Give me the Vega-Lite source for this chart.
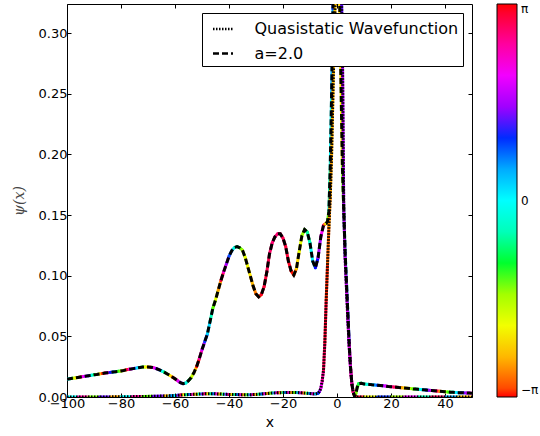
{
  "$schema": "https://vega.github.io/schema/vega-lite/v6.json",
  "autosize": {"type": "none"},
  "padding": {"left": 67, "top": 4, "right": 68, "bottom": 39},
  "width": 405,
  "height": 393,
  "config": {
    "view": {"stroke": "black", "strokeWidth": 1},
    "font": "DejaVu Sans",
    "axis": {"domain": false, "grid": false, "tickColor": "black", "tickSize": -4, "labelFlush": false, "labelColor": "black", "labelFontSize": 13, "labelFont": "DejaVu Sans", "titleFontWeight": "normal", "titleColor": "black"}
  },
  "datasets": {
    "d": [
      {"s":"a","x":-100,"y":0.0146,"p":0.00},{"s":"a","x":-99,"y":0.0150,"p":-0.72},{"s":"a","x":-98,"y":0.0154,"p":-1.44},{"s":"a","x":-97,"y":0.0157,"p":-2.16},{"s":"a","x":-96,"y":0.0161,"p":-2.88},
      {"s":"a","x":-95,"y":0.0165,"p":2.68},{"s":"a","x":-94,"y":0.0169,"p":1.96},{"s":"a","x":-93,"y":0.0172,"p":1.24},{"s":"a","x":-92,"y":0.0176,"p":0.52},{"s":"a","x":-91,"y":0.0179,"p":-0.20},
      {"s":"a","x":-90,"y":0.0183,"p":-0.92},{"s":"a","x":-89,"y":0.0186,"p":-1.64},{"s":"a","x":-88,"y":0.0190,"p":-2.36},{"s":"a","x":-87,"y":0.0193,"p":-3.08},{"s":"a","x":-86,"y":0.0197,"p":2.48},
      {"s":"a","x":-85,"y":0.0200,"p":1.76},{"s":"a","x":-84,"y":0.0203,"p":1.04},{"s":"a","x":-83,"y":0.0206,"p":0.32},{"s":"a","x":-82,"y":0.0209,"p":-0.40},{"s":"a","x":-81,"y":0.0212,"p":-1.12},
      {"s":"a","x":-80,"y":0.0215,"p":-1.84},{"s":"a","x":-79,"y":0.0219,"p":-2.56},{"s":"a","x":-78,"y":0.0224,"p":3.00},{"s":"a","x":-77,"y":0.0228,"p":2.28},{"s":"a","x":-76,"y":0.0232,"p":1.56},
      {"s":"a","x":-75,"y":0.0236,"p":0.84},{"s":"a","x":-74,"y":0.0240,"p":0.12},{"s":"a","x":-73,"y":0.0244,"p":-0.60},{"s":"a","x":-72,"y":0.0247,"p":-1.32},{"s":"a","x":-71,"y":0.0248,"p":-2.04},
      {"s":"a","x":-70,"y":0.0248,"p":-2.76},{"s":"a","x":-69,"y":0.0246,"p":2.80},{"s":"a","x":-68,"y":0.0242,"p":2.08},{"s":"a","x":-67,"y":0.0235,"p":1.36},{"s":"a","x":-66,"y":0.0226,"p":0.64},
      {"s":"a","x":-65,"y":0.0216,"p":-0.08},{"s":"a","x":-64,"y":0.0205,"p":-0.80},{"s":"a","x":-63,"y":0.0192,"p":-1.52},{"s":"a","x":-62,"y":0.0179,"p":-2.24},{"s":"a","x":-61,"y":0.0165,"p":-2.96},
      {"s":"a","x":-60,"y":0.0150,"p":2.60},{"s":"a","x":-59,"y":0.0134,"p":1.88},{"s":"a","x":-58,"y":0.0118,"p":1.16},{"s":"a","x":-57,"y":0.0110,"p":0.44},{"s":"a","x":-56,"y":0.0115,"p":-0.28},
      {"s":"a","x":-55,"y":0.0135,"p":-1.00},{"s":"a","x":-54,"y":0.0160,"p":-1.72},{"s":"a","x":-53,"y":0.0200,"p":-2.44},{"s":"a","x":-52,"y":0.0250,"p":3.12},{"s":"a","x":-51,"y":0.0316,"p":2.40},
      {"s":"a","x":-50,"y":0.0390,"p":1.68},{"s":"a","x":-49,"y":0.0455,"p":0.96},{"s":"a","x":-48,"y":0.0520,"p":0.24},{"s":"a","x":-47,"y":0.0625,"p":-0.48},{"s":"a","x":-46,"y":0.0730,"p":-1.20},
      {"s":"a","x":-45,"y":0.0800,"p":-1.92},{"s":"a","x":-44,"y":0.0880,"p":-2.64},{"s":"a","x":-43,"y":0.0960,"p":2.92},{"s":"a","x":-42,"y":0.1030,"p":2.20},{"s":"a","x":-41,"y":0.1095,"p":1.48},
      {"s":"a","x":-40,"y":0.1160,"p":0.90},{"s":"a","x":-39,"y":0.1205,"p":0.20},{"s":"a","x":-38,"y":0.1232,"p":-0.40},{"s":"a","x":-37,"y":0.1240,"p":-0.85},{"s":"a","x":-36,"y":0.1230,"p":-1.25},
      {"s":"a","x":-35,"y":0.1210,"p":-1.60},{"s":"a","x":-34,"y":0.1150,"p":-1.95},{"s":"a","x":-33,"y":0.1070,"p":-2.20},{"s":"a","x":-32,"y":0.0990,"p":-2.50},{"s":"a","x":-31,"y":0.0910,"p":-2.75},
      {"s":"a","x":-30,"y":0.0850,"p":-2.95},{"s":"a","x":-29,"y":0.0826,"p":-3.10},{"s":"a","x":-28,"y":0.0845,"p":3.05},{"s":"a","x":-27,"y":0.0910,"p":2.95},{"s":"a","x":-26,"y":0.1030,"p":2.85},
      {"s":"a","x":-25,"y":0.1180,"p":2.75},{"s":"a","x":-24,"y":0.1270,"p":2.70},{"s":"a","x":-23,"y":0.1320,"p":2.68},{"s":"a","x":-22,"y":0.1345,"p":2.70},{"s":"a","x":-21,"y":0.1345,"p":2.75},
      {"s":"a","x":-20,"y":0.1310,"p":2.85},{"s":"a","x":-19,"y":0.1240,"p":2.95},{"s":"a","x":-18,"y":0.1120,"p":3.05},{"s":"a","x":-17,"y":0.1040,"p":-3.13},{"s":"a","x":-16,"y":0.1005,"p":-2.85},
      {"s":"a","x":-15,"y":0.1060,"p":-2.30},{"s":"a","x":-14,"y":0.1200,"p":-1.90},{"s":"a","x":-13,"y":0.1330,"p":-1.45},{"s":"a","x":-12,"y":0.1380,"p":-1.05},{"s":"a","x":-11,"y":0.1360,"p":-0.60},
      {"s":"a","x":-10,"y":0.1270,"p":-0.05},{"s":"a","x":-9,"y":0.1120,"p":0.50},{"s":"a","x":-8,"y":0.1065,"p":1.05},{"s":"a","x":-7,"y":0.1150,"p":1.60},{"s":"a","x":-6,"y":0.1320,"p":2.10},
      {"s":"a","x":-5,"y":0.1415,"p":2.90},{"s":"a","x":-4.5,"y":0.1425,"p":-2.60},{"s":"a","x":-4,"y":0.1430,"p":-2.00},{"s":"a","x":-3.5,"y":0.1450,"p":-1.20},{"s":"a","x":-3,"y":0.1530,"p":-0.50},
      {"s":"a","x":-2.5,"y":0.1900,"p":0.00},{"s":"a","x":-2,"y":0.2500,"p":0.50},{"s":"a","x":-1.5,"y":0.3200,"p":1.00},{"s":"a","x":-1,"y":0.3800,"p":1.50},{"s":"a","x":-0.5,"y":0.4200,"p":2.20},
      {"s":"a","x":0,"y":0.4400,"p":3.00},{"s":"a","x":0.5,"y":0.4000,"p":-2.50},{"s":"a","x":1,"y":0.3240,"p":-2.30},{"s":"a","x":1.5,"y":0.2550,"p":-2.00},{"s":"a","x":2,"y":0.1900,"p":-1.30},
      {"s":"a","x":2.5,"y":0.1550,"p":-0.60},{"s":"a","x":3,"y":0.1200,"p":0.00},{"s":"a","x":3.5,"y":0.0950,"p":0.50},{"s":"a","x":4,"y":0.0700,"p":1.00},{"s":"a","x":4.5,"y":0.0450,"p":1.80},
      {"s":"a","x":5,"y":0.0250,"p":2.60},{"s":"a","x":5.5,"y":0.0110,"p":-2.80},{"s":"a","x":6,"y":0.0040,"p":-2.20},{"s":"a","x":6.5,"y":0.0005,"p":-1.60},{"s":"a","x":7,"y":0.0030,"p":-1.30},
      {"s":"a","x":7.5,"y":0.0080,"p":-1.10},{"s":"a","x":8,"y":0.0110,"p":-0.90},{"s":"a","x":9,"y":0.0113,"p":-0.70},{"s":"a","x":10,"y":0.0108,"p":-0.50},{"s":"a","x":11,"y":0.0106,"p":-0.25},
      {"s":"a","x":12,"y":0.0104,"p":0.00},{"s":"a","x":13,"y":0.0101,"p":0.30},{"s":"a","x":14,"y":0.0099,"p":0.65},{"s":"a","x":15,"y":0.0097,"p":1.00},{"s":"a","x":16,"y":0.0095,"p":1.30},
      {"s":"a","x":17,"y":0.0092,"p":1.60},{"s":"a","x":18,"y":0.0090,"p":1.90},{"s":"a","x":19,"y":0.0087,"p":2.20},{"s":"a","x":20,"y":0.0085,"p":2.50},{"s":"a","x":21,"y":0.0083,"p":2.80},
      {"s":"a","x":22,"y":0.0081,"p":3.10},{"s":"a","x":23,"y":0.0078,"p":-2.90},{"s":"a","x":24,"y":0.0076,"p":-2.55},{"s":"a","x":25,"y":0.0074,"p":-2.25},{"s":"a","x":26,"y":0.0072,"p":-2.00},
      {"s":"a","x":27,"y":0.0070,"p":-1.60},{"s":"a","x":28,"y":0.0067,"p":-1.20},{"s":"a","x":29,"y":0.0065,"p":-0.80},{"s":"a","x":30,"y":0.0063,"p":-0.40},{"s":"a","x":31,"y":0.0061,"p":0.00},
      {"s":"a","x":32,"y":0.0059,"p":0.50},{"s":"a","x":33,"y":0.0057,"p":1.00},{"s":"a","x":34,"y":0.0055,"p":1.50},{"s":"a","x":35,"y":0.0053,"p":2.00},{"s":"a","x":36,"y":0.0051,"p":2.50},
      {"s":"a","x":37,"y":0.0049,"p":3.00},{"s":"a","x":38,"y":0.0047,"p":-2.60},{"s":"a","x":39,"y":0.0045,"p":-2.10},{"s":"a","x":40,"y":0.0043,"p":-1.60},{"s":"a","x":41,"y":0.0042,"p":-1.10},
      {"s":"a","x":42,"y":0.0040,"p":-0.70},{"s":"a","x":43,"y":0.0039,"p":-0.30},{"s":"a","x":44,"y":0.0037,"p":0.10},{"s":"a","x":45,"y":0.0036,"p":0.50},{"s":"a","x":46,"y":0.0035,"p":0.90},
      {"s":"a","x":47,"y":0.0034,"p":1.30},{"s":"a","x":48,"y":0.0033,"p":1.70},{"s":"a","x":49,"y":0.0032,"p":2.10},{"s":"a","x":50,"y":0.0031,"p":2.50},

      {"s":"q","x":-100,"y":0,"p":0.0},{"s":"q","x":-96,"y":0,"p":2.5},{"s":"q","x":-92,"y":0,"p":-1.3},{"s":"q","x":-88,"y":0.0001,"p":1.2},{"s":"q","x":-84,"y":0.0001,"p":-2.6},
      {"s":"q","x":-80,"y":0.0002,"p":0.0},{"s":"q","x":-76,"y":0.0003,"p":2.5},{"s":"q","x":-72,"y":0.0004,"p":-1.2},{"s":"q","x":-68,"y":0.0006,"p":1.3},{"s":"q","x":-64,"y":0.0008,"p":-2.5},
      {"s":"q","x":-62,"y":0.0010,"p":0.6},
      {"s":"q","x":-60,"y":0.0012,"p":0.00},{"s":"q","x":-59,"y":0.0014,"p":1.40},{"s":"q","x":-58,"y":0.0016,"p":2.80},{"s":"q","x":-57,"y":0.0018,"p":-2.08},{"s":"q","x":-56,"y":0.0019,"p":-0.68},
      {"s":"q","x":-55,"y":0.0020,"p":0.72},{"s":"q","x":-54,"y":0.0021,"p":2.12},{"s":"q","x":-53,"y":0.0022,"p":-2.76},{"s":"q","x":-52,"y":0.0023,"p":-1.36},{"s":"q","x":-51,"y":0.0024,"p":0.04},
      {"s":"q","x":-50,"y":0.0025,"p":1.44},{"s":"q","x":-49,"y":0.0026,"p":2.84},{"s":"q","x":-48,"y":0.0027,"p":-2.04},{"s":"q","x":-47,"y":0.0027,"p":-0.64},{"s":"q","x":-46,"y":0.0027,"p":0.76},
      {"s":"q","x":-45,"y":0.0026,"p":2.16},{"s":"q","x":-44,"y":0.0025,"p":-2.72},{"s":"q","x":-43,"y":0.0024,"p":-1.32},{"s":"q","x":-42,"y":0.0023,"p":0.08},{"s":"q","x":-41,"y":0.0022,"p":1.48},
      {"s":"q","x":-40,"y":0.0021,"p":2.88},{"s":"q","x":-39,"y":0.0021,"p":-2.00},{"s":"q","x":-38,"y":0.0020,"p":-0.60},{"s":"q","x":-37,"y":0.0020,"p":0.80},{"s":"q","x":-36,"y":0.0019,"p":2.20},
      {"s":"q","x":-35,"y":0.0019,"p":-2.68},{"s":"q","x":-34,"y":0.0019,"p":-1.28},{"s":"q","x":-33,"y":0.0019,"p":0.12},{"s":"q","x":-32,"y":0.0019,"p":1.52},{"s":"q","x":-31,"y":0.0020,"p":2.92},
      {"s":"q","x":-30,"y":0.0021,"p":-1.96},{"s":"q","x":-29,"y":0.0023,"p":-0.56},{"s":"q","x":-28,"y":0.0025,"p":0.84},{"s":"q","x":-27,"y":0.0027,"p":2.24},{"s":"q","x":-26,"y":0.0029,"p":-2.64},
      {"s":"q","x":-25,"y":0.0031,"p":-1.24},{"s":"q","x":-24,"y":0.0033,"p":0.16},{"s":"q","x":-23,"y":0.0034,"p":1.56},{"s":"q","x":-22,"y":0.0035,"p":2.96},{"s":"q","x":-21,"y":0.0036,"p":-1.92},
      {"s":"q","x":-20,"y":0.0037,"p":-0.52},{"s":"q","x":-19,"y":0.0037,"p":0.88},{"s":"q","x":-18,"y":0.0038,"p":2.28},{"s":"q","x":-17,"y":0.0038,"p":-2.60},{"s":"q","x":-16,"y":0.0038,"p":-1.20},
      {"s":"q","x":-15,"y":0.0037,"p":0.20},{"s":"q","x":-14,"y":0.0036,"p":1.60},{"s":"q","x":-13,"y":0.0034,"p":3.00},{"s":"q","x":-12,"y":0.0032,"p":-1.88},{"s":"q","x":-11,"y":0.0030,"p":-0.48},
      {"s":"q","x":-10,"y":0.0028,"p":0.92},{"s":"q","x":-9,"y":0.0026,"p":2.32},{"s":"q","x":-8,"y":0.0025,"p":0.30},{"s":"q","x":-7,"y":0.0030,"p":1.00},{"s":"q","x":-6.5,"y":0.0045,"p":1.50},
      {"s":"q","x":-6,"y":0.0070,"p":2.10},{"s":"q","x":-5.5,"y":0.0130,"p":2.50},{"s":"q","x":-5,"y":0.0220,"p":2.80},{"s":"q","x":-4.5,"y":0.0450,"p":3.00},{"s":"q","x":-4,"y":0.0800,"p":-3.10},
      {"s":"q","x":-3.5,"y":0.1100,"p":-2.90},{"s":"q","x":-3,"y":0.1400,"p":-2.70},{"s":"q","x":-2.5,"y":0.1650,"p":-2.60},{"s":"q","x":-2,"y":0.2000,"p":-2.55},{"s":"q","x":-1.5,"y":0.2500,"p":-2.50},
      {"s":"q","x":-1,"y":0.3000,"p":-2.45},{"s":"q","x":-0.5,"y":0.3400,"p":-2.40},{"s":"q","x":0,"y":0.3600,"p":-2.20},{"s":"q","x":0.5,"y":0.3700,"p":-1.50},{"s":"q","x":1,"y":0.3650,"p":-0.50},
      {"s":"q","x":1.5,"y":0.3500,"p":1.20},{"s":"q","x":2,"y":0.2900,"p":1.60},{"s":"q","x":2.5,"y":0.1550,"p":1.70},{"s":"q","x":3,"y":0.1150,"p":1.80},{"s":"q","x":3.5,"y":0.0900,"p":1.90},
      {"s":"q","x":4,"y":0.0650,"p":2.00},{"s":"q","x":4.5,"y":0.0420,"p":2.10},{"s":"q","x":5,"y":0.0240,"p":2.20},{"s":"q","x":5.5,"y":0.0110,"p":2.40},{"s":"q","x":6,"y":0.0040,"p":2.60},
      {"s":"q","x":6.5,"y":0.0010,"p":2.80},{"s":"q","x":7,"y":0,"p":3.00},{"s":"q","x":10,"y":0,"p":-2.0},{"s":"q","x":15,"y":0,"p":1.0},{"s":"q","x":20,"y":0,"p":-1.5},
      {"s":"q","x":25,"y":0,"p":2.0},{"s":"q","x":30,"y":0,"p":-0.5},{"s":"q","x":35,"y":0,"p":2.8},{"s":"q","x":40,"y":0,"p":0.5},{"s":"q","x":45,"y":0,"p":-2.5},{"s":"q","x":50,"y":0,"p":1.5}
    ]
  },
  "data": {"name": "d"},
  "layer": [
    {
      "transform": [
        {"window": [{"op": "lead", "field": "x", "as": "x2"}, {"op": "lead", "field": "y", "as": "y2"}], "groupby": ["s"], "sort": [{"field": "x"}]},
        {"filter": "datum.x2 != null"}
      ],
      "mark": {"type": "rule", "strokeWidth": 3, "strokeCap": "round", "clip": true},
      "encoding": {
        "x": {"field": "x", "type": "quantitative", "scale": {"domain": [-100, 50], "nice": false, "zero": false},
              "axis": {"orient": "bottom", "values": [-100, -80, -60, -40, -20, 0, 20, 40], "format": "d", "labelPadding": 4, "title": "x", "titleFontSize": 14, "titlePadding": 5}},
        "y": {"field": "y", "type": "quantitative", "scale": {"domain": [0, 0.324], "nice": false, "zero": false},
              "axis": {"orient": "left", "values": [0, 0.05, 0.1, 0.15, 0.2, 0.25, 0.3], "format": ".2f", "labelPadding": 4, "title": "ψ(x)", "titleFont": "DejaVu Serif", "titleFontStyle": "italic", "titleFontSize": 14, "titleColor": "#444", "titlePadding": 12}},
        "x2": {"field": "x2"},
        "y2": {"field": "y2"},
        "color": {"field": "p", "type": "quantitative",
                  "scale": {"domain": [-3.14159, 3.14159], "range": ["#ff0000", "#ffff00", "#00ff00", "#00ffff", "#0000ff", "#ff00ff", "#ff0000"]},
                  "legend": {"orient": "none", "legendX": 430, "legendY": 0, "direction": "vertical", "gradientLength": 393, "gradientThickness": 20,
                             "gradientStrokeColor": "black", "gradientStrokeWidth": 1, "title": null, "values": [-3.14159, 0, 3.14159],
                             "labelExpr": "datum.value > 3 ? 'π' : datum.value < -3 ? '−π' : '0'", "labelFontSize": 12, "labelColor": "black", "labelFont": "DejaVu Sans", "padding": 0, "labelOffset": 4}}
      }
    },
    {
      "mark": {"type": "line", "color": "black", "strokeWidth": 3, "clip": true},
      "encoding": {
        "x": {"field": "x", "type": "quantitative", "axis": {"orient": "top", "values": [-100, -80, -60, -40, -20, 0, 20, 40], "labels": false, "title": null}},
        "y": {"field": "y", "type": "quantitative", "axis": {"orient": "right", "values": [0, 0.05, 0.1, 0.15, 0.2, 0.25, 0.3], "labels": false, "title": null}},
        "strokeDash": {"field": "s", "type": "nominal", "scale": {"domain": ["q", "a"], "range": [[1.5, 1.5], [6, 3]]},
                       "legend": {"orient": "top-right", "offset": 9, "title": null, "fillColor": "white", "strokeColor": "black", "padding": 4.5,
                                  "labelFontSize": 16, "labelFont": "DejaVu Sans", "labelColor": "black", "labelLimit": 400, "symbolType": "stroke", "symbolSize": 400,
                                  "symbolOffset": 5, "symbolStrokeWidth": 2.5, "symbolStrokeColor": "black", "labelOffset": 20, "rowPadding": 4.5,
                                  "labelExpr": "datum.label == 'q' ? 'Quasistatic Wavefunction' : 'a=2.0'"}}
      }
    }
  ],
  "resolve": {"axis": {"x": "independent", "y": "independent"}}
}
